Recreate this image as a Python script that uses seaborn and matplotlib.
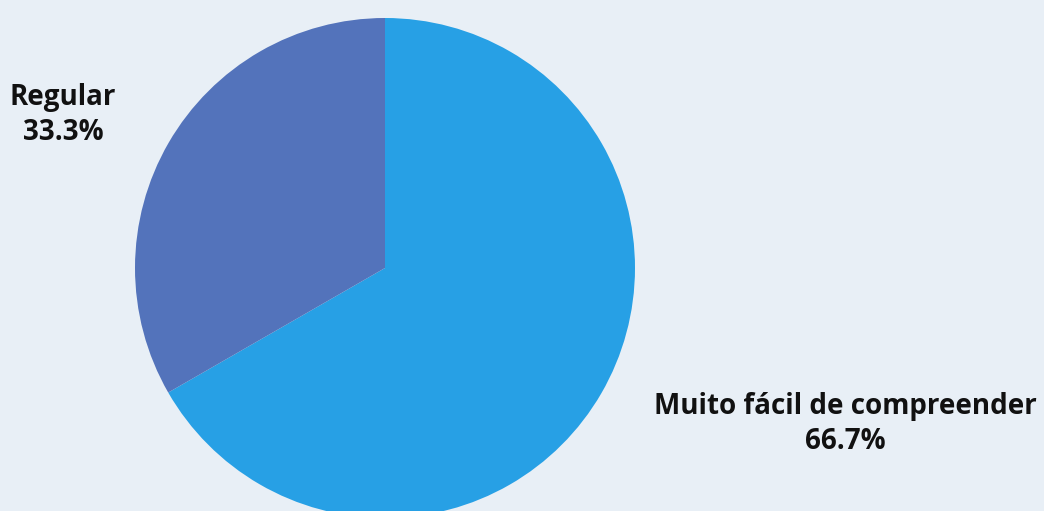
import matplotlib
matplotlib.use("Agg")
import matplotlib.pyplot as plt
from matplotlib import font_manager as fm
import seaborn as sns

# Survey responses: how easy the material was to understand
categories = ["Muito fácil de compreender", "Regular"]
shares = [66.7, 33.3]
colors = ["#27A0E5", "#5373BB"]

sns.set_theme(style="white")
plt.rcParams["font.family"] = ["Open Sans", "DejaVu Sans"]

# Static bold face of Open Sans (avoid the condensed cut)
bold_path = next((f.fname for f in fm.fontManager.ttflist
                  if f.fname.endswith("OpenSans-Bold.ttf")), None)
label_font = (fm.FontProperties(fname=bold_path, size=20) if bold_path
              else fm.FontProperties(family="DejaVu Sans", weight="bold", size=18))

bg = "#E8EFF6"
fig = plt.figure(figsize=(10.44, 5.11), dpi=100, facecolor=bg)
W, H = 1044, 511
cx, cy, r = 385, 268, 250
ax = fig.add_axes([(cx - r) / W, (H - cy - r) / H, 2 * r / W, 2 * r / H])
ax.set_facecolor(bg)

ax.pie(shares, colors=colors, startangle=90, counterclock=False,
       radius=1.0, wedgeprops=dict(linewidth=0, edgecolor="none"))
ax.set_xlim(-1, 1)
ax.set_ylim(-1, 1)
ax.set_aspect("equal")
ax.axis("off")

label_pos = {
    "Muito fácil de compreender": (1.84, -0.624),
    "Regular": (-1.288, 0.612),
}
for cat, val in zip(categories, shares):
    x, y = label_pos[cat]
    ax.text(x, y, f"{cat}\n{val:.1f}%", ha="center", va="center",
            fontproperties=label_font, color="#111111",
            linespacing=1.3, clip_on=False)

fig.savefig("out.png", dpi=100, facecolor=bg)
